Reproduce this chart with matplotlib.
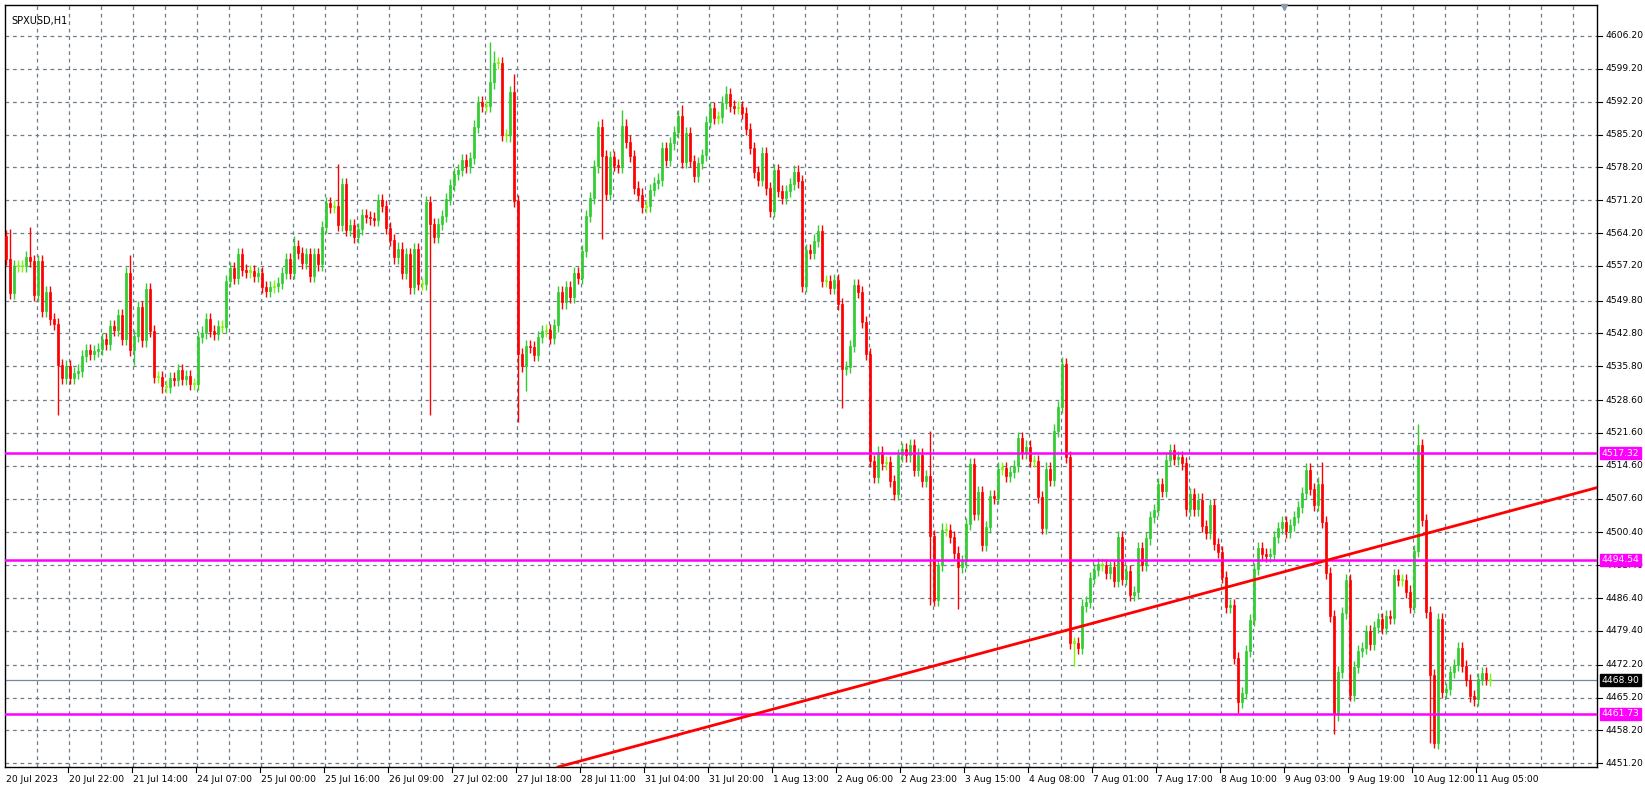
import matplotlib
matplotlib.use("Agg")
import matplotlib.pyplot as plt
from matplotlib.patches import Rectangle
import numpy as np

closes = [
 4558.6,4551.5,4557.2,4557.2,4557.2,4559.1,4558.3,4551.0,4558.3,4547.6,4551.7,4545.9,4544.8,4536.0,4533.4,4535.8,
 4533.4,4534.3,4534.9,4538.0,4539.2,4538.5,4539.0,4539.5,4541.6,4540.6,4544.3,4543.5,4546.8,4541.6,4555.6,4539.2,
 4542.3,4548.4,4541.3,4552.2,4543.4,4533.6,4533.5,4531.5,4531.4,4533.3,4532.8,4535.0,4533.1,4533.8,4532.1,4532.0,
 4542.1,4543.0,4545.9,4543.4,4542.7,4544.3,4544.1,4554.0,4556.8,4554.6,4559.7,4556.3,4556.0,4556.1,4555.1,4555.6,
 4552.7,4551.9,4552.7,4552.9,4553.6,4555.6,4558.7,4555.6,4561.4,4560.0,4557.9,4559.7,4555.1,4559.8,4557.5,4565.5,
 4570.6,4569.7,4569.9,4565.9,4574.6,4564.8,4565.9,4563.3,4565.0,4568.0,4567.6,4567.3,4566.9,4571.3,4569.9,4565.3,
 4562.8,4559.0,4560.9,4555.6,4559.8,4552.6,4560.7,4553.4,4553.4,4570.8,4566.2,4563.3,4566.2,4567.8,4571.5,4574.4,
 4576.8,4577.7,4579.8,4578.4,4580.2,4586.9,4592.2,4591.3,4591.3,4596.3,4600.5,4600.5,4585.1,4585.0,4594.3,
 4571.0,4538.5,4535.8,4540.2,4539.9,4538.3,4542.1,4543.3,4543.5,4541.8,4544.5,4551.7,4549.4,4552.6,4550.6,4555.6,
 4554.6,4560.4,4567.8,4571.7,4578.4,4586.7,4580.7,4572.5,4580.3,4578.7,4578.2,4587.1,4583.7,4580.7,4573.9,4572.4,
 4569.7,4569.9,4573.4,4574.9,4575.6,4582.4,4579.8,4583.3,4585.8,4589.2,4579.3,4585.5,4579.5,4576.3,4579.1,4580.9,
 4587.9,4590.9,4588.8,4589.0,4592.0,4593.9,4591.3,4590.9,4591.1,4589.7,4586.4,4582.4,4577.2,4575.6,4581.2,4573.7,
 4569.0,4577.7,4573.1,4571.7,4573.2,4574.6,4577.3,4575.2,
 4553.0,
 4560.6,4560.0,4562.6,4564.7,4553.9,4553.9,4552.5,4554.1,4549.1,4535.2,4535.7,4540.1,4553.1,4551.7,4545.3,4538.5,
 4515.6,4512.2,4517.5,4515.1,4515.4,4511.4,4508.5,4516.8,4518.2,4516.8,4519.1,4513.8,4517.0,4511.4,4512.4,4499.6,
 4486.0,4493.5,4501.0,4500.9,4499.4,4496.1,4493.1,4494.2,4502.2,4514.9,4504.4,4509.0,4497.7,4501.5,4508.1,4507.8,
 4514.0,4514.2,4512.4,4513.3,4514.5,4520.6,4517.3,4518.7,4515.6,4515.6,4508.0,4501.3,4514.0,4511.5,4522.1,4527.2,
 4536.3,4516.5,4476.9,4476.9,4475.8,4484.8,4485.5,4490.7,4492.3,4493.7,4493.5,4491.7,4493.1,4490.0,4499.5,4490.4,
 4492.1,4487.1,4487.6,4497.0,4493.5,4499.1,4503.7,4505.2,4510.7,4509.3,4515.9,4517.9,4516.1,4516.5,4515.1,4505.3,
 4508.6,4505.3,4507.4,4501.8,4500.2,4506.2,4498.0,4496.3,4490.9,4484.5,4485.0,4473.7,4464.3,4466.1,4475.1,4481.8,
 4492.6,4497.0,4495.8,4495.4,4495.8,4499.5,4501.3,4502.7,4500.6,4502.0,
 4503.6,4505.8,4508.8,4513.8,4509.7,4506.3,4510.8,4502.6,4491.7,4482.6,4461.6,4470.7,4483.3,4490.2,4465.7,4471.7,
 4475.1,4475.8,4479.3,4476.6,4480.3,4481.9,4480.1,4482.6,4482.1,4491.4,4490.2,4490.2,4487.8,4484.5,4496.4,4519.0,
 4503.0,4483.5,4470.0,4455.5,4481.9,4466.4,4467.1,4470.7,4472.1,4475.8,4471.9,4468.9,4465.5,4464.8,4469.1,4470.5,
 4469.1,4468.9,
]
first_open = 4563.5
# notable wick extremes: bar index -> price
high_marks = {1: 4565.0, 6: 4565.5, 31: 4559.5, 72: 4563.5, 83: 4579.0, 121: 4605.0, 122: 4603.0, 127: 4598.0,
              149: 4588.5, 154: 4590.5, 169: 4591.5, 180: 4595.5, 264: 4537.8, 231: 4522.0, 353: 4523.5, 329: 4515.5}
low_marks = {13: 4525.5, 32: 4536.0, 106: 4525.5, 128: 4524.0, 130: 4530.5, 149: 4563.0, 209: 4527.0,
             231: 4485.0, 238: 4484.0, 267: 4472.0, 308: 4462.0, 332: 4457.5, 357: 4454.5, 356: 4455.5}

levels = [4517.32, 4494.54, 4461.73]
last_price = 4468.90
trend_start = (138, 4450.4)
trend_end = (398, 4510.0)

ytick_vals = [4606.20,4599.20,4592.20,4585.20,4578.20,4571.20,4564.20,4557.20,4549.80,4542.80,4535.80,4528.60,
              4521.60,4514.60,4507.60,4500.40,4493.40,4486.40,4479.40,4472.20,4465.20,4458.20,4451.20]
xlabels = ["20 Jul 2023","20 Jul 22:00","21 Jul 14:00","24 Jul 07:00","25 Jul 00:00","25 Jul 16:00","26 Jul 09:00",
           "27 Jul 02:00","27 Jul 18:00","28 Jul 11:00","31 Jul 04:00","31 Jul 20:00","1 Aug 13:00","2 Aug 06:00",
           "2 Aug 23:00","3 Aug 15:00","4 Aug 08:00","7 Aug 01:00","7 Aug 17:00","8 Aug 10:00","9 Aug 03:00",
           "9 Aug 19:00","10 Aug 12:00","11 Aug 05:00"]

W, H = 1645, 789
fig = plt.figure(figsize=(W/100, H/100), dpi=100)
fig.patch.set_facecolor("white")
L, R, T, B = 5, 1597, 5, 767
ax = fig.add_axes([L/W, 1-B/H, (R-L)/W, (B-T)/H])
ax.set_xlim(-0.25, 397.75)
ax.set_ylim(4450.4, 4612.8)
ax.set_facecolor("white")

gridc = "#6f7c8a"
for yv in ytick_vals:
    ax.axhline(yv, color=gridc, lw=0.9, ls=(0, (3, 3)), zorder=0)
for gx in np.arange(7.75, 398, 8):
    ax.axvline(gx, color=gridc, lw=0.9, ls=(0, (3, 3)), zorder=0)

n = len(closes)
opens = [first_open] + closes[:-1]
bw = 0.72
for i in range(n):
    o, c = opens[i], closes[i]
    hi = high_marks.get(i, max(o, c) + 1.3)
    lo = low_marks.get(i, min(o, c) - 1.3)
    if abs(c - o) < 0.3:
        col = "#7cfc00"
    elif c > o:
        col = "#32cd32"
    else:
        col = "#ff0000"
    ax.plot([i, i], [lo, hi], color=col, lw=1.0, zorder=3, solid_capstyle="butt")
    bot = min(o, c)
    h = max(abs(c - o), 0.25)
    ax.add_patch(Rectangle((i - bw/2, bot), bw, h, facecolor=col, edgecolor=col, lw=0.5, zorder=4))

for lv in levels:
    ax.axhline(lv, color="#ff00ff", lw=1.8, zorder=5)
ax.axhline(last_price, color="#778899", lw=0.9, zorder=2)
ax.plot([trend_start[0], trend_end[0]], [trend_start[1], trend_end[1]], color="#ff0000", lw=2.0, zorder=6)

ax.set_xticks([])
ax.set_yticks([])
for s in ["top", "left", "bottom", "right"]:
    ax.spines[s].set_color("black")
    ax.spines[s].set_linewidth(1.0)

# right axis labels
for yv in ytick_vals:
    ax.annotate(f"{yv:.2f}", xy=(1.0, yv), xycoords=("axes fraction", "data"), xytext=(6, 0),
                textcoords="offset points", fontsize=6.6, va="center", ha="left", color="black")
    ax.annotate("", xy=(1.0, yv), xycoords=("axes fraction", "data"))
    ax.plot([1.0, 1.003], [yv, yv], transform=ax.get_yaxis_transform(), color="black", lw=0.8, clip_on=False)

def tag(v, fc):
    ax.annotate(f"{v:.2f}", xy=(1.0, v), xycoords=("axes fraction", "data"), xytext=(3.5, 0),
                textcoords="offset points", fontsize=6.6, va="center", ha="left", color="white",
                bbox=dict(boxstyle="square,pad=0.15", fc=fc, ec=fc), zorder=10)
for lv in levels:
    tag(lv, "#ff00ff")
tag(last_price, "black")

# bottom labels
for k, lab in enumerate(xlabels):
    bi = 0 if k == 0 else 15.5 + 16*(k-1)
    ax.annotate(lab, xy=(bi, 0), xycoords=("data", "axes fraction"), xytext=(0 if k == 0 else 0.5, -6),
                textcoords="offset points", fontsize=6.6, va="top", ha="left", color="black")
    if k > 0:
        ax.plot([bi, bi], [0, -0.006], transform=ax.get_xaxis_transform(), color="black", lw=0.8, clip_on=False)

ax.text(0.004, 0.985, "SPXUSD,H1", transform=ax.transAxes, fontsize=7, va="top", ha="left", color="black")
ax.plot([319.5], [4612.3], marker="v", color="#8a9aaa", markersize=5, clip_on=False, zorder=7)

fig.savefig("out.png", dpi=100)
